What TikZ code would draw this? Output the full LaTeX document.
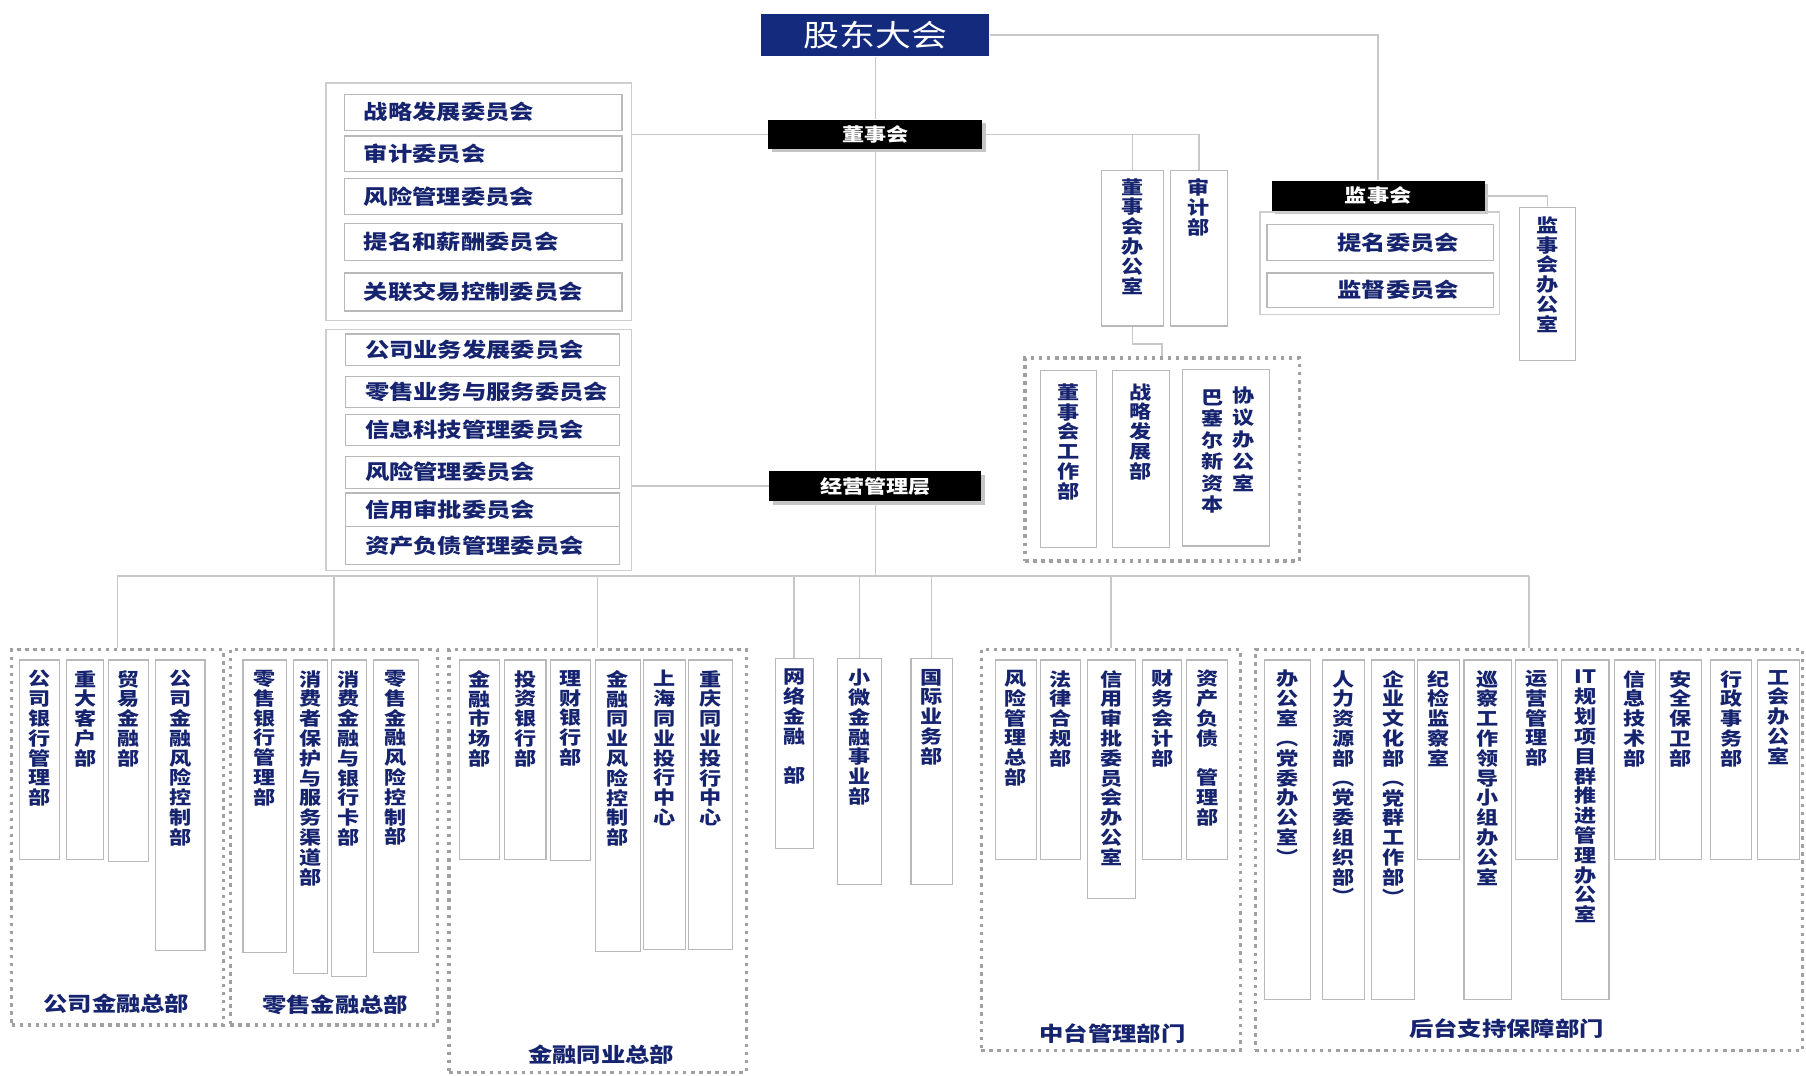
\documentclass[tikz,border=0pt]{standalone}
\usepackage{fontspec}
\setmainfont{Noto Sans CJK SC}[FakeStretch=1.2]
\usetikzlibrary{fit,calc,shadows}
\definecolor{navy}{RGB}{22,36,112}
\definecolor{gdfill}{RGB}{20,42,125}
\definecolor{lngray}{RGB}{200,200,200}
\definecolor{bxgray}{RGB}{185,185,185}
\definecolor{dtgray}{RGB}{160,160,160}
\def\vtend{vtEND}
\def\vt#1{\vtaux#1\vtend}
\def\vtaux#1#2\vtend{#1\ifx\vtend#2\vtend\else\\\vtaux#2\vtend\fi}
\newcommand\vdept[7][9]{%
  \node[bx, fit={(#3,#4) (#5,#6)}] (#2) {};
  \node[vtxt, anchor=north] (#2-t) at ($(#2.north)+(0,#1)$) {\vt{#7}};
}
\newcommand\hcom[6]{%
  \node[bx, fit={(#2,#3) (#4,#5)}] (#1) {};
  \node[htxt, anchor=west] (#1-t) at ($(#1.west)+(17,0)$) {#6};
}
\begin{document}
\begin{tikzpicture}[x=0.5pt,y=-0.5pt,
  ln/.style={draw=lngray, line width=0.6pt},
  bx/.style={draw=bxgray, line width=0.5pt, fill=white, inner sep=0pt},
  grp/.style={draw=bxgray!70, line width=0.5pt, inner sep=0pt},
  dotbox/.style={draw=dtgray, line width=1.5pt, dash pattern=on 1.5pt off 2pt, inner sep=0pt},
  blk/.style={fill=black, inner sep=0pt, drop shadow={opacity=0.45, shadow xshift=1.5pt, shadow yshift=-1.5pt}},
  vtxt/.style={text=navy, inner sep=0pt, align=center, font=\fontsize{8}{8.6}\selectfont\bfseries},
  htxt/.style={text=navy, inner sep=0pt, font=\fontsize{8.8}{10}\selectfont\bfseries},
  wtxt/.style={text=white, inner sep=0pt, font=\fontsize{8}{10}\selectfont\bfseries},
  lbl/.style={text=navy, inner sep=0pt, font=\fontsize{8.8}{10}\selectfont\bfseries}]
\fill[white] (0,0) rectangle (1568,934);
\useasboundingbox (0,0) rectangle (1568,934);

% ---------- top level ----------
\node[fill=gdfill, inner sep=0pt, fit={(661,12) (859,49)}] (gd) {};
\node[text=white, inner sep=0pt, font=\fontsize{13}{15}\selectfont] (gd-t) at (gd.center) {股东大会};

\node[blk, fit={(667,104) (853,129)}] (dsh) {};
\node[wtxt] (dsh-t) at (dsh.center) {董事会};

\node[blk, fit={(668,409) (852,435)}] (jy) {};
\node[wtxt] (jy-t) at (jy.center) {经营管理层};

\node[blk, fit={(1104,157) (1289,183)}] (js) {};
\node[wtxt] (js-t) at (js.center) {监事会};

% ---------- board committees ----------
\node[grp, fit={(283,72) (548,278)}] (cg1) {};
\hcom{c11}{299}{82}{540}{113}{战略发展委员会}
\hcom{c12}{299}{118}{540}{149}{审计委员会}
\hcom{c13}{299}{155}{540}{186}{风险管理委员会}
\hcom{c14}{299}{194}{540}{226}{提名和薪酬委员会}
\hcom{c15}{299}{237}{540}{270}{关联交易控制委员会}

% ---------- management committees ----------
\node[grp, fit={(283,286) (548,495)}] (cg2) {};
\hcom{c21}{300}{290}{538}{317}{公司业务发展委员会}
\hcom{c22}{300}{327}{538}{354}{零售业务与服务委员会}
\hcom{c23}{300}{360}{538}{387}{信息科技管理委员会}
\hcom{c24}{300}{396}{538}{424}{风险管理委员会}
\hcom{c25}{300}{428}{538}{457}{信用审批委员会}
\hcom{c26}{300}{457}{538}{490}{资产负债管理委员会}

% ---------- board offices ----------
\vdept[7]{dbo}{956}{148}{1010}{283}{董事会办公室}
\vdept[7]{sjb}{1016}{148}{1066}{283}{审计部}

\node[dotbox, fit={(890,311) (1128,487)}] (dg) {};
\vdept[11]{dg1}{903}{322}{952}{475}{董事会工作部}
\vdept[11]{dg2}{966}{322}{1015}{475}{战略发展部}
\node[bx, fit={(1027,321) (1102,474)}] (dg3) {};
\node[vtxt, anchor=north, font=\fontsize{8}{9.6}\selectfont\bfseries] (dg3-t1) at (1080,335) {\vt{协议办公室}};
\node[vtxt, anchor=north, font=\fontsize{8}{9.3}\selectfont\bfseries] (dg3-t2) at (1053,338) {\vt{巴塞尔新资本}};

% ---------- supervisory board ----------
\node[grp, fit={(1094,184) (1302,273)}] (jg) {};
\node[bx, fit={(1100,195) (1297,226)}] (jg1) {};
\node[htxt] (jg1-t) at (1214,210.5) {提名委员会};
\node[bx, fit={(1100,237) (1297,267)}] (jg2) {};
\node[htxt] (jg2-t) at (1214,252) {监督委员会};
\vdept[8]{jsbo}{1319}{180}{1368}{313}{监事会办公室}

% ---------- bottom groups ----------
\node[dotbox, fit={(10,564) (194,890)}] (g1) {};
\vdept{a1}{17}{573}{52}{746}{公司银行管理部}
\vdept{a2}{58}{573}{90}{746}{重大客户部}
\vdept{a3}{94}{573}{129}{748}{贸易金融部}
\vdept{a4}{135}{573}{178}{825}{公司金融风险控制部}
\node[lbl] (g1-l) at (101,871) {公司金融总部};

\node[dotbox, fit={(200,564) (380,890)}] (g2) {};
\vdept{b1}{211}{573}{249}{827}{零售银行管理部}
\vdept{b2}{255}{573}{284}{845}{消费者保护与服务渠道部}
\vdept{b3}{288}{573}{318}{848}{消费金融与银行卡部}
\vdept{b4}{324}{573}{363}{827}{零售金融风险控制部}
\node[lbl] (g2-l) at (291,872) {零售金融总部};

\node[dotbox, fit={(390,564) (648,931)}] (g3) {};
\vdept{c1}{399}{573}{434}{746}{金融市场部}
\vdept{c2}{438}{573}{474}{746}{投资银行部}
\vdept{c3}{478}{573}{513}{747}{理财银行部}
\vdept{c4}{517}{573}{556}{826}{金融同业风险控制部}
\vdept{c5}{559}{573}{595}{824}{上海同业投行中心}
\vdept{c6}{598}{573}{636}{824}{重庆同业投行中心}
\node[lbl] (g3-l) at (522,916) {金融同业总部};

\vdept{d1}{673}{572}{706}{737}{网络金融{\mbox{}}部}
\vdept{d2}{727}{572}{765}{768}{小微金融事业部}
\vdept{d3}{791}{572}{827}{768}{国际业务部}

\node[dotbox, fit={(852,564) (1077,912)}] (g4) {};
\vdept{e1}{864}{573}{900}{746}{风险管理总部}
\vdept{e2}{903}{573}{938}{746}{法律合规部}
\vdept{e3}{944}{573}{986}{780}{信用审批委员会办公室}
\vdept{e4}{992}{573}{1026}{746}{财务会计部}
\vdept{e5}{1030}{573}{1066}{746}{资产负债{\mbox{}}管理部}
\node[lbl] (g4-l) at (966,897) {中台管理部门};

\node[dotbox, fit={(1090,564) (1565,912)}] (g5) {};
\vdept{f1}{1098}{573}{1138}{868}{办公室︵党委办公室︶}
\vdept{f2}{1148}{573}{1185}{868}{人力资源部︵党委组织部︶}
\vdept{f3}{1191}{573}{1228}{868}{企业文化部︵党群工作部︶}
\vdept{f4}{1231}{573}{1267}{746}{纪检监察室}
\vdept{f5}{1271}{573}{1312}{868}{巡察工作领导小组办公室}
\vdept{f6}{1316}{573}{1352}{746}{运营管理部}
\vdept{f7}{1356}{573}{1397}{868}{{IT}规划项目群推进管理办公室}
\vdept{f8}{1402}{573}{1437}{746}{信息技术部}
\vdept{f9}{1441}{573}{1477}{746}{安全保卫部}
\vdept{f10}{1485}{573}{1521}{746}{行政事务部}
\vdept{f11}{1526}{573}{1562}{746}{工会办公室}
\node[lbl] (g5-l) at (1308,893) {后台支持保障部门};

% ---------- connectors ----------
\coordinate (bus) at (760,500);
\draw[ln] (gd.south) -- (dsh.north);
\draw[ln] (dsh.south) -- (jy.north);
\draw[ln] (jy.south) -- (bus);
\draw[ln] (g1.north |- bus) -- (g5.north |- bus);
\foreach \n in {g1,g2,g3,d1,d2,d3,g4,g5} \draw[ln] (\n.north) -- (\n.north |- bus);
\draw[ln] (gd.east) -| (js.north);
\draw[ln] (dsh.west) -- (dsh.west -| cg1.east);
\draw[ln] (jy.west) -- (jy.west -| cg2.east);
\draw[ln] (dsh.east) -| (sjb.north);
\draw[ln] (dbo.north) -- (dbo.north |- dsh.east);
\draw[ln] (dbo.south) -- ++(0,15) -| (dg.north);
\draw[ln] (js.east) -| (jsbo.north);
\end{tikzpicture}
\end{document}
